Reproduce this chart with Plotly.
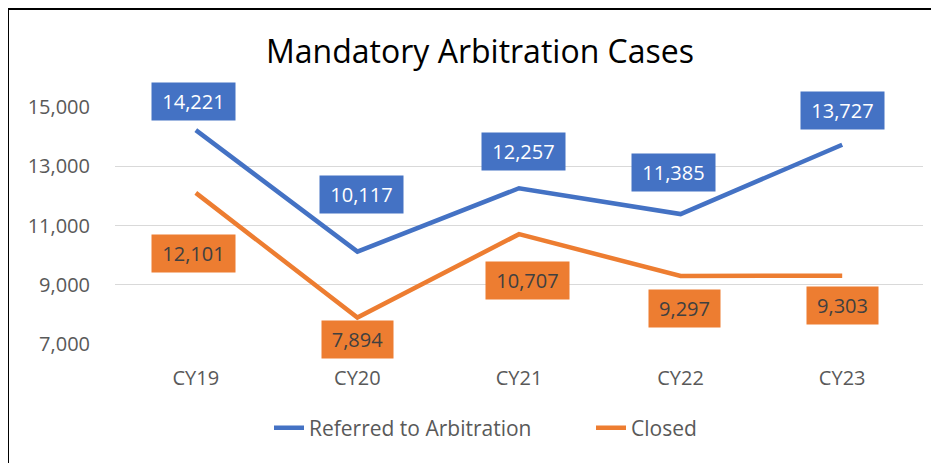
import plotly.graph_objects as go

# data
years = ["CY19", "CY20", "CY21", "CY22", "CY23"]
referred = [14221, 10117, 12257, 11385, 13727]
closed = [12101, 7894, 10707, 9297, 9303]

BLUE = "#4472C4"
ORANGE = "#ED7D31"
FONT = "Open Sans"

# page places the figure 8px in from the corner (body margin)
OFF = 8
PL, PR, PT, PB = 115 - OFF, 923 - OFF, 107 - OFF, 344 - OFF  # plot area in figure px
W, H = PR - PL, PB - PT

# label nudges in pixels (x, y) to match the manually placed Excel labels
ref_shift = [(-2, 29), (4, 57), (4, 37), (-7, 42), (0, 34)]
clo_shift = [(-2, -61), (0, -22), (8, -46), (4, -33), (0, -30)]

fig = go.Figure()
fig.add_trace(go.Scatter(x=years, y=referred, mode="lines", name="Referred to Arbitration",
                         line=dict(color=BLUE, width=4.5)))
fig.add_trace(go.Scatter(x=years, y=closed, mode="lines", name="Closed",
                         line=dict(color=ORANGE, width=4.5)))

def add_labels(vals, color, txtcolor, shifts):
    for yr, v, (dx, dy) in zip(years, vals, shifts):
        txt = f"{v:,}"
        fig.add_annotation(x=yr, y=v, text=txt, showarrow=False,
                           xshift=dx, yshift=dy,
                           bgcolor=color, borderpad=0,
                           width=83 if len(txt) > 5 else 71, height=37,
                           font=dict(family=FONT, size=20, color=txtcolor))

add_labels(referred, BLUE, "white", ref_shift)
add_labels(closed, ORANGE, "#404040", clo_shift)

def px(xp):
    return (xp - OFF - PL) / W

def py(yp):
    return (PB - (yp - OFF)) / H

# outer frame (left and top edges visible)
fig.add_shape(type="rect", xref="paper", yref="paper",
              x0=px(8), x1=px(960), y0=py(480), y1=py(9),
              line=dict(color="black", width=2), layer="above")

fig.update_layout(
    width=939, height=463, autosize=False,
    margin=dict(l=PL, r=939 - PR, t=PT, b=463 - PB),
    paper_bgcolor="white", plot_bgcolor="white",
    title=dict(text="Mandatory Arbitration Cases", x=px(480), xanchor="center",
               xref="paper", y=1 - (52 - OFF) / 463, yanchor="middle",
               font=dict(family=FONT, size=32, color="black")),
    legend=dict(orientation="h", x=px(591), xanchor="center",
                y=py(428), yanchor="middle", entrywidth=277,
                font=dict(family=FONT, size=21, color="#595959")),
    showlegend=True,
)
fig.update_xaxes(range=[-0.5, 4.5], showgrid=False, showline=False, zeroline=False,
                 ticks="outside", ticklen=16, tickcolor="rgba(0,0,0,0)",
                 tickfont=dict(family=FONT, size=20, color="#595959"))
fig.update_yaxes(range=[7000, 15000], tick0=7000, dtick=2000, tickformat=",", showgrid=True,
                 gridcolor="#D9D9D9", gridwidth=1.3, zeroline=False, showline=False,
                 ticks="outside", ticklen=20, tickcolor="rgba(0,0,0,0)",
                 tickfont=dict(family=FONT, size=20, color="#595959"))

fig.write_html("out.html")
